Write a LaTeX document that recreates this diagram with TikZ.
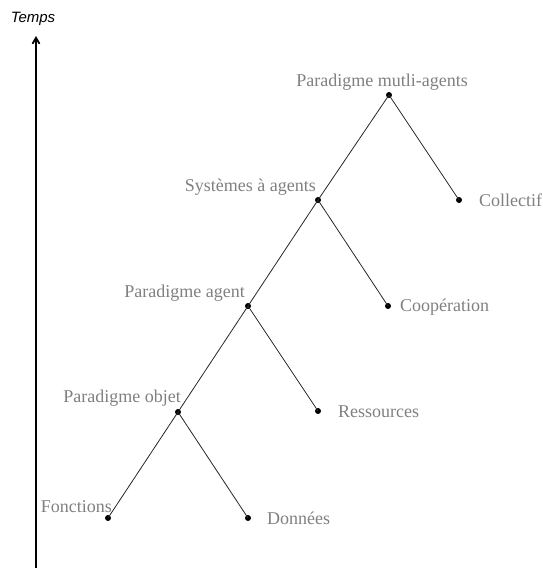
\documentclass[tikz,border=0pt]{standalone}
\usepackage{fontspec}
\setmainfont{Liberation Serif}
\newfontfamily\tempsfont{Liberation Sans}
\usetikzlibrary{arrows.meta}
\begin{document}
\begin{tikzpicture}[x=1pt,y=-1pt,
  dot/.style={circle,fill=black,inner sep=0pt,minimum size=6pt},
  lbl/.style={text=black!50,font=\fontsize{18}{21}\selectfont,inner sep=0pt},
  edge/.style={draw=black!85,line width=0.8pt}]
\useasboundingbox (0,0) rectangle (543,571);
% time axis
\coordinate (tb) at (36,568);
\coordinate (tt) at (36,36);
\draw[line width=1.8pt,-{Straight Barb[length=6pt,width=7pt]}] (tb) -- (tt);
\node[font=\tempsfont\itshape\fontsize{15}{17}\selectfont,inner sep=0pt,anchor=base] (temps) at (33,22) {Temps};
% dots
\node[dot] (fon) at (108,518) {};
\node[dot] (obj) at (178,412) {};
\node[dot] (don) at (248,518) {};
\node[dot] (age) at (248,306) {};
\node[dot] (res) at (318,411) {};
\node[dot] (sys) at (318,200) {};
\node[dot] (coo) at (388,306) {};
\node[dot] (mul) at (389,95) {};
\node[dot] (col) at (459,200) {};
% edges
\draw[edge] (fon.center) -- (obj.center) -- (don.center);
\draw[edge] (obj.center) -- (age.center) -- (res.center);
\draw[edge] (age.center) -- (sys.center) -- (coo.center);
\draw[edge] (sys.center) -- (mul.center) -- (col.center);
% labels
\node[lbl,anchor=base] (lmul) at (382,86) {Paradigme mutli-agents};
\node[lbl,anchor=base east] (lsys) at (316,191) {Systèmes à agents};
\node[lbl,anchor=base east] (lage) at (245,297) {Paradigme agent};
\node[lbl,anchor=base east] (lobj) at (181,402) {Paradigme objet};
\node[lbl,anchor=base east] (lfon) at (112,512) {Fonctions};
\node[lbl,anchor=base west] (ldon) at (267,524) {Données};
\node[lbl,anchor=base west] (lres) at (338,417) {Ressources};
\node[lbl,anchor=base west] (lcoo) at (400,311) {Coopération};
\node[lbl,anchor=base west] (lcol) at (479,206) {Collectif};
\end{tikzpicture}
\end{document}
